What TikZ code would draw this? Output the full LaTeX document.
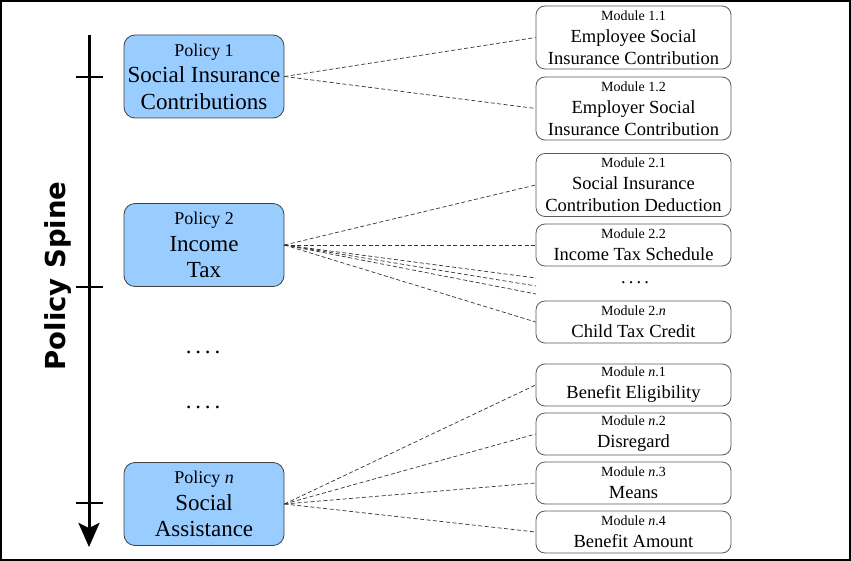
\documentclass[tikz,border=0pt]{standalone}
\usepackage{fontspec}
\setmainfont{Liberation Serif}
\newfontfamily\spinefont{DejaVu Sans}
\usetikzlibrary{arrows.meta}
\definecolor{polfill}{RGB}{153,204,255}
\definecolor{modline}{RGB}{90,90,90}
\tikzset{
  policy/.style={draw=black!75, fill=polfill, rounded corners=11pt, line width=0.8pt,
    minimum width=160pt, minimum height=83pt, inner sep=0pt, align=center,
    font=\fontsize{23}{26.5}\selectfont},
  module/.style={draw=modline, fill=white, rounded corners=9pt, line width=0.8pt,
    minimum width=195pt, inner sep=0pt, align=center,
    font=\fontsize{18.5}{22}\selectfont},
  tall/.style={minimum height=63pt},
  short/.style={minimum height=42pt},
  link/.style={draw=black!80, dash pattern=on 4pt off 2.5pt, line width=0.7pt},
  tick/.style={line width=2.5pt},
}
\newcommand{\pl}[1]{{\fontsize{18}{20}\selectfont #1}}
\newcommand{\ml}[1]{{\fontsize{14}{16}\selectfont #1}}
\begin{document}
\begin{tikzpicture}[x=1pt,y=-1pt]
\useasboundingbox (0,0) rectangle (851,561);
\draw[line width=2pt] (1,1) rectangle (850,560);

% spine
\coordinate (sT) at (89,35);
\coordinate (sB) at (89,547);
\draw[line width=3pt, -{Stealth[length=24pt,width=21pt,inset=5pt]}] (sT) -- (sB);
\coordinate (t1a) at (76,77); \coordinate (t1b) at (103,77);
\coordinate (t2a) at (76,287); \coordinate (t2b) at (103,287);
\coordinate (t3a) at (76,503); \coordinate (t3b) at (103,503);
\draw[tick] (t1a) -- (t1b);
\draw[tick] (t2a) -- (t2b);
\draw[tick] (t3a) -- (t3b);
\node[rotate=90, font=\spinefont\bfseries\fontsize{27.5}{30}\selectfont] (spine) at (58,276) {Policy Spine};

% policies
\node[policy] (p1) at (204,76.5) {\pl{Policy 1}\\Social Insurance\\Contributions};
\node[policy] (p2) at (204,245) {\pl{Policy 2}\\Income\\Tax};
\node[policy] (pn) at (204,504) {\pl{Policy \textit{n}}\\Social\\Assistance};
\node[font=\fontsize{23}{26}\selectfont] (d1) at (203,352) {.\,.\,.\,.};
\node[font=\fontsize{23}{26}\selectfont] (d2) at (203,407) {.\,.\,.\,.};

% modules
\node[module,tall] (m11) at (633.5,37.5) {\ml{Module 1.1}\\Employee Social\\Insurance Contribution};
\node[module,tall] (m12) at (633.5,108.5) {\ml{Module 1.2}\\Employer Social\\Insurance Contribution};
\node[module,tall] (m21) at (633.5,185) {\ml{Module 2.1}\\Social Insurance\\Contribution Deduction};
\node[module,short] (m22) at (633.5,245) {\ml{Module 2.2}\\Income Tax Schedule};
\node[font=\fontsize{18.5}{21}\selectfont] (d3) at (635,283) {.\,.\,.\,.};
\node[module,short] (m2n) at (633.5,322) {\ml{Module 2.\textit{n}}\\Child Tax Credit};
\node[module,short] (mn1) at (633.5,385) {\ml{Module \textit{n}.1}\\Benefit Eligibility};
\node[module,short] (mn2) at (633.5,434) {\ml{Module \textit{n}.2}\\Disregard};
\node[module,short] (mn3) at (633.5,483) {\ml{Module \textit{n}.3}\\Means};
\node[module,short] (mn4) at (633.5,532) {\ml{Module \textit{n}.4}\\Benefit Amount};

% links
\coordinate (e1) at (536,278);
\coordinate (e2) at (536,286);
\coordinate (e3) at (536,294);
\draw[link] (p1.east) -- (m11.west);
\draw[link] (p1.east) -- (m12.west);
\draw[link] (p2.east) -- (m21.west);
\draw[link] (p2.east) -- (m22.west);
\draw[link] (p2.east) -- (e1);
\draw[link] (p2.east) -- (e2);
\draw[link] (p2.east) -- (e3);
\draw[link] (p2.east) -- (m2n.west);
\draw[link] (pn.east) -- (mn1.west);
\draw[link] (pn.east) -- (mn2.west);
\draw[link] (pn.east) -- (mn3.west);
\draw[link] (pn.east) -- (mn4.west);
\end{tikzpicture}
\end{document}
